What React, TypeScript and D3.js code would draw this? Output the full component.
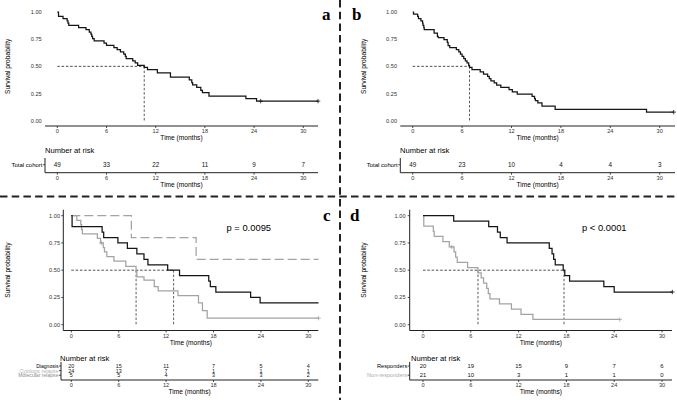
import { useEffect, useRef } from "react";
import * as d3 from "d3";

type Step = [number, number];

const timeTicks = [0, 6, 12, 18, 24, 30];
const survTicks = [0, 0.25, 0.5, 0.75, 1];

// Kaplan-Meier steps as [months, survival after the drop]

// a: total cohort (first series)
const cohortASteps: Step[] = [
  [0.15, 0.959], [0.7, 0.939], [1.2, 0.918], [1.3, 0.898], [1.4, 0.878],
  [2.6, 0.857], [3.5, 0.837], [3.9, 0.816], [4.1, 0.796], [4.2, 0.776],
  [4.3, 0.755], [4.5, 0.735], [5.7, 0.714], [6.0, 0.694], [6.9, 0.673],
  [7.3, 0.653], [7.7, 0.633], [8.1, 0.612], [8.3, 0.592], [8.4, 0.571],
  [9.2, 0.551], [9.5, 0.531], [9.8, 0.51], [10.6, 0.49], [11.0, 0.469],
  [12.2, 0.44], [13.8, 0.4], [16.1, 0.375], [16.4, 0.35], [16.5, 0.33],
  [17.0, 0.307], [17.5, 0.28], [17.7, 0.258], [18.5, 0.227], [23.0, 0.202],
  [24.3, 0.18],
];
const cohortAEnd = 31.8;
const cohortACensored = [24.8, 31.8];
const cohortARisk = [49, 33, 22, 11, 9, 7];

// b: total cohort (second series)
const cohortBSteps: Step[] = [
  [0.1, 0.98], [0.6, 0.959], [0.7, 0.939], [1.0, 0.918], [1.2, 0.898],
  [1.25, 0.878], [1.35, 0.857], [1.4, 0.837], [2.6, 0.806], [3.0, 0.776],
  [3.1, 0.765], [3.8, 0.745], [4.2, 0.72], [4.3, 0.69], [4.5, 0.673],
  [5.3, 0.653], [5.6, 0.633], [5.8, 0.612], [6.0, 0.592], [6.2, 0.571],
  [6.4, 0.551], [6.6, 0.531], [6.8, 0.51], [6.9, 0.49], [7.2, 0.469],
  [8.2, 0.449], [8.6, 0.429], [9.1, 0.408], [9.3, 0.388], [9.5, 0.367],
  [9.9, 0.347], [10.2, 0.327], [10.7, 0.306], [11.7, 0.286], [12.1, 0.265],
  [12.7, 0.245], [14.5, 0.224], [14.8, 0.204], [14.9, 0.184], [15.2, 0.163],
  [15.7, 0.135], [17.3, 0.105], [28.4, 0.079],
];
const cohortBEnd = 31.7;
const cohortBCensored = [31.7];
const cohortBRisk = [49, 23, 10, 4, 4, 3];

// c: by status at treatment start
const diagnosisSteps: Step[] = [
  [0.1, 0.9], [3.9, 0.85], [4.1, 0.8], [5.9, 0.75], [7.1, 0.7], [8.3, 0.65],
  [9.2, 0.6], [9.7, 0.55], [12.2, 0.5], [13.7, 0.45], [17.4, 0.4],
  [17.6, 0.35], [18.3, 0.3], [22.7, 0.25], [23.9, 0.2],
];
const cytologicSteps: Step[] = [
  [0.7, 0.958], [1.2, 0.917], [1.3, 0.875], [1.4, 0.833], [3.3, 0.792],
  [3.7, 0.75], [4.05, 0.708], [4.2, 0.667], [4.5, 0.625], [5.4, 0.583],
  [6.9, 0.535], [8.2, 0.486], [8.3, 0.438], [9.2, 0.41], [10.5, 0.35],
  [11.0, 0.31], [13.5, 0.267], [16.1, 0.2], [16.6, 0.13], [17.2, 0.06],
];
const molecularSteps: Step[] = [[7.6, 0.8], [15.8, 0.6]];
const statusEnd = 31.3;
const cytologicCensored = [3.8, 31.3];
const diagnosisRisk = [20, 15, 11, 7, 5, 4];
const cytologicRisk = [24, 13, 7, 1, 1, 1];
const molecularRisk = [5, 5, 4, 3, 3, 2];
const statusP = "p = 0.0095";

// d: by response
const responderSteps: Step[] = [
  [3.85, 0.95], [8.25, 0.9], [9.35, 0.85], [9.7, 0.8], [10.55, 0.75],
  [15.85, 0.7], [16.2, 0.65], [16.4, 0.6], [16.6, 0.55], [17.6, 0.5],
  [17.8, 0.45], [18.4, 0.4], [22.7, 0.35], [24.0, 0.3],
];
const nonResponderSteps: Step[] = [
  [0.1, 0.905], [1.3, 0.857], [1.4, 0.81], [2.5, 0.762], [3.3, 0.714],
  [3.9, 0.667], [4.1, 0.619], [4.3, 0.571], [5.6, 0.524], [6.9, 0.476],
  [7.3, 0.429], [7.6, 0.381], [8.0, 0.333], [8.2, 0.286], [8.4, 0.238],
  [9.6, 0.19], [11.1, 0.143], [12.3, 0.095], [13.8, 0.048],
];
const responderEnd = 31.3;
const responderCensored = [31.3];
const nonResponderEnd = 24.7;
const nonResponderCensored = [3.6, 24.7];
const responderRisk = [20, 19, 15, 9, 7, 6];
const nonResponderRisk = [21, 10, 3, 1, 1, 0];
const responseP = "p < 0.0001";

const SANS = "'Liberation Sans', Arial, sans-serif";
const SERIF = "'Liberation Serif', 'Times New Roman', serif";

interface Curve {
  steps: Step[];
  end: number;
  censored: number[];
  color: string;
  dash?: string;
}

interface Panel {
  letter: string;
  letterX: number;
  letterY: number;
  x0: number;
  x30: number;
  left: number;
  right: number;
  yTop: number;
  yBottom: number;
  axisY: number;
  yAxisLine: boolean;
  yLabelX: number;
  yTitleX: number;
  curves: Curve[];
  pText?: string;
  pX?: number;
  pY?: number;
  table: {
    titleX: number;
    titleY: number;
    left: number;
    right: number;
    top: number;
    axisY: number;
    rowY: number[];
    names: string[];
    colors: string[];
    risks: number[][];
    fontSize: number;
  };
}

const panels: Panel[] = [
  {
    letter: "a", letterX: 322, letterY: 20,
    x0: 57.3, x30: 303.3, left: 45, right: 318,
    yTop: 12, yBottom: 120.7, axisY: 126, yAxisLine: false,
    yLabelX: 41.7, yTitleX: 7.5,
    curves: [{ steps: cohortASteps, end: cohortAEnd, censored: cohortACensored, color: "#151515" }],
    table: {
      titleX: 45, titleY: 150, left: 45, right: 318, top: 158, axisY: 172.7,
      rowY: [164.7], names: ["Total cohort"], colors: ["#000"], risks: [cohortARisk], fontSize: 6,
    },
  },
  {
    letter: "b", letterX: 352, letterY: 20,
    x0: 412.7, x30: 659.7, left: 400.3, right: 675,
    yTop: 12, yBottom: 120.7, axisY: 126, yAxisLine: false,
    yLabelX: 397, yTitleX: 363.7,
    curves: [{ steps: cohortBSteps, end: cohortBEnd, censored: cohortBCensored, color: "#151515" }],
    table: {
      titleX: 400, titleY: 150, left: 400.3, right: 675, top: 158, axisY: 172.7,
      rowY: [164.7], names: ["Total cohort"], colors: ["#000"], risks: [cohortBRisk], fontSize: 6,
    },
  },
  {
    letter: "c", letterX: 323, letterY: 221,
    x0: 71.3, x30: 308.3, left: 63.3, right: 318.3,
    yTop: 215.7, yBottom: 324.7, axisY: 330.5, yAxisLine: true,
    yLabelX: 60, yTitleX: 7,
    curves: [
      { steps: molecularSteps, end: statusEnd, censored: [], color: "#a3a3a3", dash: "9,4" },
      { steps: cytologicSteps, end: statusEnd, censored: cytologicCensored, color: "#a3a3a3" },
      { steps: diagnosisSteps, end: statusEnd, censored: [], color: "#151515" },
    ],
    pText: statusP, pX: 226.5, pY: 227,
    table: {
      titleX: 60, titleY: 358.5, left: 61, right: 318.3, top: 362, axisY: 380,
      rowY: [366, 370.6, 375.2],
      names: ["Diagnosis", "Cytologic relapse", "Molecular relapse"],
      colors: ["#000", "#b3b3b3", "#8a8a8a"],
      risks: [diagnosisRisk, cytologicRisk, molecularRisk], fontSize: 5.1,
    },
  },
  {
    letter: "d", letterX: 350, letterY: 221,
    x0: 423, x30: 662, left: 409.7, right: 672,
    yTop: 215.7, yBottom: 324.7, axisY: 330.5, yAxisLine: true,
    yLabelX: 405.5, yTitleX: 363.7,
    curves: [
      { steps: nonResponderSteps, end: nonResponderEnd, censored: nonResponderCensored, color: "#a3a3a3" },
      { steps: responderSteps, end: responderEnd, censored: responderCensored, color: "#151515" },
    ],
    pText: responseP, pX: 582, pY: 227,
    table: {
      titleX: 411, titleY: 358.5, left: 409.7, right: 672, top: 362, axisY: 380,
      rowY: [366, 375.2],
      names: ["Responders", "Non-responders"],
      colors: ["#000", "#ababab"],
      risks: [responderRisk, nonResponderRisk], fontSize: 5.6,
    },
  },
];

// survfit-style median: midpoint when the curve sits exactly on 0.5
function medianTime(steps: Step[]): number | null {
  const i = steps.findIndex((s) => s[1] <= 0.5 + 1e-9);
  if (i < 0) return null;
  if (Math.abs(steps[i][1] - 0.5) < 1e-9 && i + 1 < steps.length) {
    return (steps[i][0] + steps[i + 1][0]) / 2;
  }
  return steps[i][0];
}

function survAt(steps: Step[], t: number): number {
  let s = 1;
  for (const [time, v] of steps) if (time <= t) s = v;
  return s;
}

function drawPanel(svg: d3.Selection<SVGSVGElement, unknown, null, undefined>, p: Panel) {
  const g = svg.append("g");
  const x = d3.scaleLinear().domain([0, 30]).range([p.x0, p.x30]);
  const y = d3.scaleLinear().domain([0, 1]).range([p.yBottom, p.yTop]);

  // axes
  g.append("line")
    .attr("x1", p.left).attr("x2", p.right)
    .attr("y1", p.axisY).attr("y2", p.axisY)
    .attr("stroke", "#222").attr("stroke-width", 1);
  if (p.yAxisLine) {
    g.append("line")
      .attr("x1", p.left).attr("x2", p.left)
      .attr("y1", p.yTop - 6).attr("y2", p.axisY)
      .attr("stroke", "#222").attr("stroke-width", 1);
    g.selectAll(null).data(survTicks).join("line")
      .attr("x1", p.left - 2).attr("x2", p.left)
      .attr("y1", (d) => y(d)).attr("y2", (d) => y(d))
      .attr("stroke", "#222").attr("stroke-width", 0.8);
  }
  g.selectAll(null).data(timeTicks).join("line")
    .attr("x1", (d) => x(d)).attr("x2", (d) => x(d))
    .attr("y1", p.axisY).attr("y2", p.axisY + 2)
    .attr("stroke", "#222").attr("stroke-width", 0.8);
  g.selectAll(null).data(timeTicks).join("text")
    .attr("x", (d) => x(d)).attr("y", p.axisY + 5)
    .attr("text-anchor", "middle").attr("dominant-baseline", "central")
    .attr("font-family", SANS).attr("font-size", 5.6).attr("fill", "#333")
    .text((d) => d);
  g.append("text")
    .attr("x", (p.left + p.right) / 2).attr("y", p.axisY + 11.8)
    .attr("text-anchor", "middle").attr("dominant-baseline", "central")
    .attr("font-family", SANS).attr("font-size", 6.6).attr("fill", "#000")
    .text("Time (months)");

  g.selectAll(null).data(survTicks).join("text")
    .attr("x", p.yLabelX).attr("y", (d) => y(d))
    .attr("text-anchor", "end").attr("dominant-baseline", "central")
    .attr("font-family", SANS).attr("font-size", 5.6).attr("fill", "#333")
    .text((d) => d3.format(".2f")(d));
  g.append("text")
    .attr("transform", `translate(${p.yTitleX},${(p.yTop + p.yBottom) / 2}) rotate(-90)`)
    .attr("text-anchor", "middle").attr("dominant-baseline", "central")
    .attr("font-family", SANS).attr("font-size", 6.6).attr("fill", "#000")
    .text("Survival probability");

  // median guides
  const medians = p.curves
    .map((c) => medianTime(c.steps))
    .filter((m): m is number => m !== null);
  if (medians.length) {
    g.append("line")
      .attr("x1", x(0)).attr("x2", x(d3.max(medians)!))
      .attr("y1", y(0.5)).attr("y2", y(0.5))
      .attr("stroke", "#222").attr("stroke-width", 0.8)
      .attr("stroke-dasharray", "2.5,1.8");
    g.selectAll(null).data(medians).join("line")
      .attr("x1", (d) => x(d)).attr("x2", (d) => x(d))
      .attr("y1", y(0.5)).attr("y2", y(0))
      .attr("stroke", "#333").attr("stroke-width", 0.8)
      .attr("stroke-dasharray", "2.5,1.8");
  }

  // survival curves
  const line = d3.line<Step>()
    .x((d) => x(d[0])).y((d) => y(d[1]))
    .curve(d3.curveStepAfter);
  p.curves.forEach((c) => {
    const last = c.steps.length ? c.steps[c.steps.length - 1][1] : 1;
    const pts: Step[] = [[0, 1], ...c.steps, [c.end, last]];
    g.append("path")
      .attr("d", line(pts))
      .attr("fill", "none")
      .attr("stroke", c.color).attr("stroke-width", 1.25)
      .attr("stroke-dasharray", c.dash ?? null);
    const marks = g.selectAll(null).data(c.censored).join("g")
      .attr("transform", (t) => `translate(${x(t)},${y(survAt(c.steps, t))})`);
    marks.append("line").attr("x1", -2.2).attr("x2", 2.2)
      .attr("stroke", c.color).attr("stroke-width", 0.8);
    marks.append("line").attr("y1", -2.2).attr("y2", 2.2)
      .attr("stroke", c.color).attr("stroke-width", 0.8);
  });

  if (p.pText) {
    g.append("text")
      .attr("x", p.pX!).attr("y", p.pY!)
      .attr("dominant-baseline", "central")
      .attr("font-family", SANS).attr("font-size", 9.4).attr("fill", "#000")
      .text(p.pText);
  }

  g.append("text")
    .attr("x", p.letterX).attr("y", p.letterY)
    .attr("font-family", SERIF).attr("font-weight", "bold")
    .attr("font-size", 17).attr("fill", "#000")
    .text(p.letter);

  // risk table
  const t = p.table;
  g.append("text")
    .attr("x", t.titleX).attr("y", t.titleY)
    .attr("dominant-baseline", "central")
    .attr("font-family", SANS).attr("font-size", 7.6).attr("fill", "#000")
    .text("Number at risk");
  g.append("line")
    .attr("x1", t.left).attr("x2", t.right)
    .attr("y1", t.axisY).attr("y2", t.axisY)
    .attr("stroke", "#222").attr("stroke-width", 1);
  g.append("line")
    .attr("x1", t.left).attr("x2", t.left)
    .attr("y1", t.top).attr("y2", t.axisY)
    .attr("stroke", "#222").attr("stroke-width", 1);
  t.names.forEach((name, i) => {
    const ry = t.rowY[i];
    g.append("line")
      .attr("x1", t.left - 2).attr("x2", t.left)
      .attr("y1", ry).attr("y2", ry)
      .attr("stroke", "#222").attr("stroke-width", 0.8);
    g.append("text")
      .attr("x", t.left - 2.5).attr("y", ry)
      .attr("text-anchor", "end").attr("dominant-baseline", "central")
      .attr("font-family", SANS).attr("font-size", t.fontSize).attr("fill", t.colors[i])
      .text(name);
    g.selectAll(null).data(t.risks[i]).join("text")
      .attr("x", (_, j) => x(timeTicks[j])).attr("y", ry)
      .attr("text-anchor", "middle").attr("dominant-baseline", "central")
      .attr("font-family", SANS).attr("font-size", t.fontSize + 0.3).attr("fill", "#111")
      .text((d) => d);
  });
  g.selectAll(null).data(timeTicks).join("line")
    .attr("x1", (d) => x(d)).attr("x2", (d) => x(d))
    .attr("y1", t.axisY).attr("y2", t.axisY + 2)
    .attr("stroke", "#222").attr("stroke-width", 0.8);
  g.selectAll(null).data(timeTicks).join("text")
    .attr("x", (d) => x(d)).attr("y", t.axisY + 5.3)
    .attr("text-anchor", "middle").attr("dominant-baseline", "central")
    .attr("font-family", SANS).attr("font-size", 5.6).attr("fill", "#333")
    .text((d) => d);
  g.append("text")
    .attr("x", (t.left + t.right) / 2).attr("y", t.axisY + 11.5)
    .attr("text-anchor", "middle").attr("dominant-baseline", "central")
    .attr("font-family", SANS).attr("font-size", 6.6).attr("fill", "#000")
    .text("Time (months)");
}

function KaplanMeierGrid() {
  const svgRef = useRef<SVGSVGElement>(null);

  useEffect(() => {
    const w = 677;
    const h = 400;
    const svg = d3.select(svgRef.current!).attr("width", w).attr("height", h);
    svg.selectAll("*").remove();
    svg.append("rect").attr("width", w).attr("height", h).attr("fill", "#fff");

    panels.forEach((p) => drawPanel(svg, p));

    // dashed frame between the four panels
    svg.append("line")
      .attr("x1", 340).attr("x2", 340).attr("y1", 0).attr("y2", h)
      .attr("stroke", "#222").attr("stroke-width", 2)
      .attr("stroke-dasharray", "7.5,4.2");
    svg.append("line")
      .attr("x1", 0).attr("x2", w).attr("y1", 196.5).attr("y2", 196.5)
      .attr("stroke", "#222").attr("stroke-width", 2)
      .attr("stroke-dasharray", "7.5,4.2");
  }, []);

  return (
    <svg
      ref={svgRef}
      style={{ position: "absolute", left: 0, top: 0, display: "block" }}
    />
  );
}

export default function App() {
  return <KaplanMeierGrid />;
}
